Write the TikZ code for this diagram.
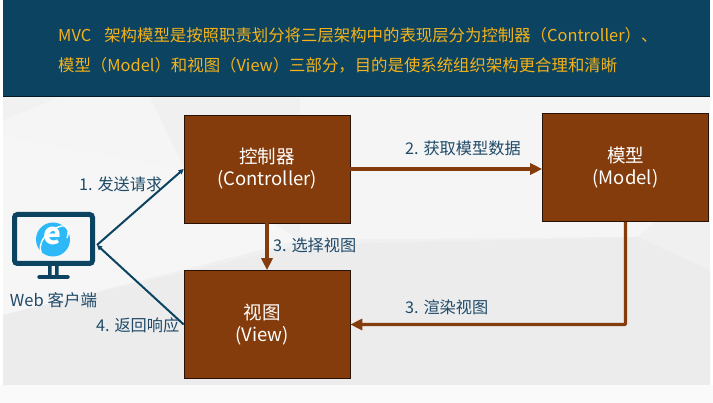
\documentclass[tikz,border=0pt]{standalone}
\usepackage{fontspec}
\setmainfont{Noto Sans CJK SC}
\usetikzlibrary{arrows.meta,calc}
\definecolor{navy}{HTML}{0B4360}
\definecolor{boxbrown}{HTML}{843C0C}
\definecolor{gold}{HTML}{F5B21A}
\definecolor{lab}{HTML}{1F4A68}
\definecolor{iecol}{HTML}{2DB9F8}
\tikzset{
  x=1pt,y=-1pt,
  mvcbox/.style={draw=black!70!boxbrown,line width=0.6pt,fill=boxbrown,text=white,minimum width=166pt,minimum height=108pt,align=center,font=\fontsize{18.5}{22}\selectfont,inner sep=0pt},
  thick brown/.style={draw=boxbrown,line width=3.2pt,-{Triangle[length=12pt,width=11pt]}},
  thin navy/.style={draw=navy,line width=2pt,-{Triangle[length=5pt,width=5pt]}},
  lbl/.style={text=lab,font=\fontsize{16.2}{20}\selectfont,inner sep=0pt,anchor=west},
  head/.style={text=gold,font=\fontsize{16.4}{20}\selectfont,inner sep=0pt,anchor=west},
}
\begin{document}
\begin{tikzpicture}
\useasboundingbox (0,0) rectangle (713,403);
\fill[white] (0,0) rectangle (713,403);
% background facets
\fill[black!6] (3,97) rectangle (710,385);
\fill[black!4] (3,97) -- (150,97) -- (185,170) -- (3,135) -- cycle;
\fill[black!3.5] (3,135) -- (185,170) -- (300,240) -- (3,315) -- cycle;
\fill[black!4] (300,240) -- (637,237) -- (710,175) -- (710,97) -- (300,97) -- cycle;
\fill[black!7.5] (3,315) -- (300,245) -- (637,237) -- (710,270) -- (710,385) -- (3,385) -- cycle;
\fill[black!5.5] (3,97) -- (3,120) -- (60,97) -- cycle;
\fill[black!2] (0,385) rectangle (713,403);
% header
\fill[navy] (3,0) rectangle (710,97);
\draw[black!60!navy,line width=0.6pt] (3,96.7) -- (710,96.7);
\node[head] (h1) at (58,35) {MVC\hspace{0.8em}架构模型是按照职责划分将三层架构中的表现层分为控制器（Controller）、};
\node[head] (h2) at (58,65.5) {模型（Model）和视图（View）三部分，目的是使系统组织架构更合理和清晰};
% boxes
\node[mvcbox] (ctrl) at (267,169) {控制器\\(Controller)};
\node[mvcbox] (view) at (267,324.5) {\hspace*{-10pt}视图\\\hspace*{-10pt}(View)};
\node[mvcbox] (model) at (625.5,167.5) {模型\\(Model)};
% monitor
\node[draw=navy,line width=5pt,rounded corners=3pt,minimum width=78pt,minimum height=49pt,inner sep=0pt] (client) at (53.5,239) {};
\fill[navy] (48,266) rectangle (51.5,277) (55,266) rectangle (58.5,277);
\draw[navy,line width=4.5pt,line cap=round] (39.5,277) -- (67.5,277);
\fill[iecol] (53,239.5) circle (17);
\draw[white,line width=1.4pt] (41,252) .. controls (36,238) and (58,224) .. (65,226) .. controls (69,228) and (69,233) .. (67,238);
\node[text=white,inner sep=0pt,font=\fontsize{30}{30}\selectfont\bfseries\itshape] (ie) at (52,236) {e};
\node[text=lab,inner sep=0pt,font=\fontsize{16.5}{20}\selectfont] (webl) at (53.5,300) {Web 客户端};
% connectors
\coordinate (cl1) at ($(client.east)+(2,6)$);
\draw[thin navy] (cl1) -- (ctrl.west);
\draw[thin navy] (view.west) -- (cl1);
\draw[thick brown] (ctrl.east) -- (ctrl.east -| model.west);
\draw[thick brown] (ctrl.south) -- (view.north);
\draw[thick brown,rounded corners=1pt] (model.south) |- (view.east);
% labels
\node[lbl] (l1) at (79,184) {1. 发送请求};
\node[lbl] (l2) at (405,148) {2. 获取模型数据};
\node[lbl] (l3) at (273,245) {3. 选择视图};
\node[lbl] (l3b) at (405,307) {3. 渲染视图};
\node[lbl] (l4) at (96,325) {4. 返回响应};
\end{tikzpicture}
\end{document}
